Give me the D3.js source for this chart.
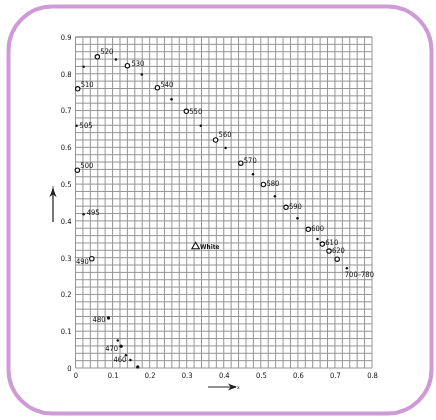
<!DOCTYPE html>
<html>
<head>
<meta charset="utf-8">
<script src="https://cdn.jsdelivr.net/npm/d3@7"></script>
<style>
  body { margin: 0; background: #fff; }
  svg { will-change: transform; }
  text { font-family: "Liberation Sans Narrow", "DejaVu Sans Condensed", sans-serif; fill: #111; -webkit-font-smoothing: antialiased; }
</style>
</head>
<body>
<div id="chart"></div>
<script>
// wavelength points drawn as open circles
const circleX = [0.006, 0.059, 0.14, 0.221, 0.299, 0.378, 0.446, 0.507, 0.568, 0.628, 0.666, 0.684, 0.706, 0.005, 0.044];
const circleY = [0.759, 0.846, 0.822, 0.762, 0.698, 0.620, 0.557, 0.499, 0.437, 0.377, 0.337, 0.318, 0.296, 0.538, 0.297];
const circleLabel = ["510", "520", "530", "540", "550", "560", "570", "580", "590", "600", "610", "620", "", "500", "490"];

// in-between points drawn as small dots
const dotX = [0.022, 0.109, 0.179, 0.259, 0.338, 0.405, 0.479, 0.538, 0.599, 0.653, 0.732, 0.003, 0.022, 0.089, 0.114, 0.123, 0.136, 0.148, 0.168];
const dotY = [0.819, 0.839, 0.798, 0.731, 0.659, 0.598, 0.527, 0.467, 0.407, 0.351, 0.271, 0.659, 0.418, 0.136, 0.075, 0.059, 0.035, 0.022, 0.003];
const dotLabel = ["", "", "", "", "", "", "", "", "", "", "700–780", "505", "495", "480", "", "470", "", "460", ""];

const whitePoint = [0.324, 0.33];
const xTicks = [0, 0.1, 0.2, 0.3, 0.4, 0.5, 0.6, 0.7, 0.8];
const yTicks = [0, 0.1, 0.2, 0.3, 0.4, 0.5, 0.6, 0.7, 0.8, 0.9];

const width = 436, height = 420;
const margin = {left: 75.5, right: 64, top: 37, bottom: 52};

const svg = d3.select("#chart").append("svg")
  .attr("width", width)
  .attr("height", height);

// rounded frame
svg.append("rect")
  .attr("x", 8.5).attr("y", 6.5)
  .attr("width", 423).attr("height", 407)
  .attr("rx", 44)
  .attr("fill", "none")
  .attr("stroke", "#cf9bd6")
  .attr("stroke-width", 4);

const x = d3.scaleLinear().domain([0, 0.8]).range([margin.left, width - margin.right]);
const y = d3.scaleLinear().domain([0, 0.9]).range([height - margin.bottom, margin.top]);

// grid every 0.02
const gx = d3.range(0, 0.8001, 0.02);
const gy = d3.range(0, 0.9001, 0.02);
const grid = svg.append("g").attr("stroke", "#959595").attr("stroke-width", 1);
grid.selectAll("line.v").data(gx).enter().append("line")
  .attr("x1", d => x(d)).attr("x2", d => x(d))
  .attr("y1", y(0)).attr("y2", y(0.9));
grid.selectAll("line.h").data(gy.concat([0.9])).enter().append("line")
  .attr("x1", x(0)).attr("x2", x(0.8))
  .attr("y1", d => y(d)).attr("y2", d => y(d));

// axes (labels only)
const xAxis = svg.append("g")
  .attr("transform", `translate(0,${y(0)})`)
  .call(d3.axisBottom(x).tickValues(xTicks).tickSize(0).tickPadding(5).tickFormat(d => d === 0 ? "0" : d3.format(".1f")(d)));
const yAxis = svg.append("g")
  .attr("transform", `translate(${x(0)},0)`)
  .call(d3.axisLeft(y).tickValues(yTicks).tickSize(0).tickPadding(4).tickFormat(d => d === 0 ? "0" : d3.format(".1f")(d)));
[xAxis, yAxis].forEach(a => {
  a.select(".domain").remove();
  a.selectAll("text").attr("font-size", "7.5px").attr("fill", "#333");
});

// arrows
const defs = svg.append("defs");
defs.append("marker").attr("id", "ah")
  .attr("viewBox", "0 0 10 10").attr("refX", 9).attr("refY", 5)
  .attr("markerWidth", 9).attr("markerHeight", 9).attr("markerUnits", "userSpaceOnUse")
  .attr("orient", "auto")
  .append("path").attr("d", "M0,1 L10,5 L0,9 L3,5 Z").attr("fill", "#222");
svg.append("line").attr("x1", 208).attr("x2", 236).attr("y1", 387).attr("y2", 387)
  .attr("stroke", "#222").attr("stroke-width", 1).attr("marker-end", "url(#ah)");
svg.append("text").attr("x", 237).attr("y", 389).attr("font-size", "5px").text("x");
svg.append("line").attr("x1", 53).attr("x2", 53).attr("y1", 222).attr("y2", 189)
  .attr("stroke", "#555").attr("stroke-width", 1.6).attr("marker-end", "url(#ah)");
svg.append("text").attr("x", 53).attr("y", 189).attr("font-size", "5px").attr("text-anchor", "middle").text("y");

// label offsets
const circleOff = {
  "510": [3, -2, "start"], "520": [3, -3, "start"], "530": [4, 0, "start"], "540": [3, -1, "start"],
  "550": [3, 3, "start"], "560": [3, -3, "start"], "570": [3, 0, "start"], "580": [3, 2, "start"],
  "590": [3, 2, "start"], "600": [3, 2, "start"], "610": [3, 1, "start"], "620": [3, 2, "start"],
  "500": [3, -2, "start"], "490": [-3, 5, "end"]
};
const dotOff = {
  "700–780": [-2, 9, "start"], "505": [3, 2.5, "start"], "495": [3, 1, "start"],
  "480": [-3, 4, "end"], "470": [-3, 5, "end"], "460": [-4, 2, "end"]
};

const circles = circleX.map((d, i) => ({x: d, y: circleY[i], label: circleLabel[i]}));
const dots = dotX.map((d, i) => ({x: d, y: dotY[i], label: dotLabel[i]}));

svg.selectAll("circle.wl").data(circles).enter().append("circle")
  .attr("cx", d => x(d.x)).attr("cy", d => y(d.y))
  .attr("r", 2.2).attr("fill", "#fff").attr("stroke", "#111").attr("stroke-width", 1.1);

svg.selectAll("circle.dot").data(dots).enter().append("circle")
  .attr("cx", d => x(d.x)).attr("cy", d => y(d.y))
  .attr("r", d => (d.label === "480" || d.label === "470" || d.y < 0.01) ? 1.7 : 1.25)
  .attr("fill", "#111");

svg.selectAll("text.cl").data(circles.filter(d => d.label)).enter().append("text")
  .attr("x", d => x(d.x) + circleOff[d.label][0])
  .attr("y", d => y(d.y) + circleOff[d.label][1])
  .attr("text-anchor", d => circleOff[d.label][2])
  .attr("font-size", "7.5px")
  .text(d => d.label);

svg.selectAll("text.dl").data(dots.filter(d => d.label)).enter().append("text")
  .attr("x", d => x(d.x) + dotOff[d.label][0])
  .attr("y", d => y(d.y) + dotOff[d.label][1])
  .attr("text-anchor", d => dotOff[d.label][2])
  .attr("font-size", "7.5px")
  .text(d => d.label);

// white point
const wx = x(whitePoint[0]), wy = y(whitePoint[1]);
svg.append("path")
  .attr("d", d3.symbol().type(d3.symbolTriangle).size(24)())
  .attr("transform", `translate(${wx},${wy})`)
  .attr("fill", "#fff").attr("stroke", "#111").attr("stroke-width", 1.1);
svg.append("text").attr("x", wx + 4.5).attr("y", wy + 2.5)
  .attr("font-size", "6.5px").attr("font-weight", "bold").text("White");
</script>
</body>
</html>
